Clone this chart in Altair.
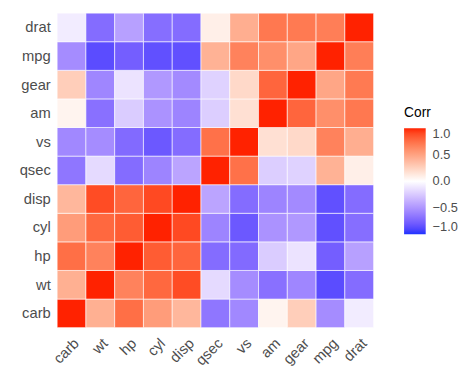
import altair as alt
import pandas as pd

variables = ["carb", "wt", "hp", "cyl", "disp", "qsec", "vs", "am", "gear", "mpg", "drat"]

carb = [1.00, 0.43, 0.75, 0.53, 0.39, -0.66, -0.57, 0.06, 0.27, -0.55, -0.09]
wt = [0.43, 1.00, 0.66, 0.78, 0.89, -0.17, -0.55, -0.69, -0.58, -0.87, -0.71]
hp = [0.75, 0.66, 1.00, 0.83, 0.79, -0.71, -0.72, -0.24, -0.13, -0.78, -0.45]
cyl = [0.53, 0.78, 0.83, 1.00, 0.90, -0.59, -0.81, -0.52, -0.49, -0.85, -0.70]
disp = [0.39, 0.89, 0.79, 0.90, 1.00, -0.43, -0.71, -0.59, -0.56, -0.85, -0.71]
qsec = [-0.66, -0.17, -0.71, -0.59, -0.43, 1.00, 0.74, -0.23, -0.21, 0.42, 0.09]
vs = [-0.57, -0.55, -0.72, -0.81, -0.71, 0.74, 1.00, 0.17, 0.21, 0.66, 0.44]
am = [0.06, -0.69, -0.24, -0.52, -0.59, -0.23, 0.17, 1.00, 0.79, 0.60, 0.71]
gear = [0.27, -0.58, -0.13, -0.49, -0.56, -0.21, 0.21, 0.79, 1.00, 0.48, 0.70]
mpg = [-0.55, -0.87, -0.78, -0.85, -0.85, 0.42, 0.66, 0.60, 0.48, 1.00, 0.68]
drat = [-0.09, -0.71, -0.45, -0.70, -0.71, 0.09, 0.44, 0.71, 0.70, 0.68, 1.00]

rows = {"carb": carb, "wt": wt, "hp": hp, "cyl": cyl, "disp": disp, "qsec": qsec,
        "vs": vs, "am": am, "gear": gear, "mpg": mpg, "drat": drat}

records = []
for yv in variables:
    for xv, val in zip(variables, rows[yv]):
        records.append({"Var1": xv, "Var2": yv, "Corr": val})
df = pd.DataFrame(records)

FONT = "Liberation Sans"

chart = alt.Chart(df).mark_rect(stroke="white", strokeWidth=0.6).encode(
    x=alt.X("Var1:N", sort=variables, title=None,
            axis=alt.Axis(labelAngle=-45, labelAlign="right", labelBaseline="top",
                          labelFontSize=15, labelColor="#4D4D4D", labelFont=FONT,
                          ticks=False, domain=False, labelPadding=8)),
    y=alt.Y("Var2:N", sort=list(reversed(variables)), title=None,
            axis=alt.Axis(labelFontSize=15, labelColor="#4D4D4D", labelFont=FONT,
                          ticks=False, domain=False, labelPadding=7)),
    color=alt.Color("Corr:Q",
                    scale=alt.Scale(domain=[-1, 0, 1], range=["#1E32FF", "white", "#FF2200"],
                                    interpolate="lab"),
                    legend=alt.Legend(title="Corr", orient="none", legendX=353, legendY=95,
                                      gradientLength=108, gradientThickness=22,
                                      values=[-1, -0.5, 0, 0.5, 1], format=".1f",
                                      labelFontSize=13, labelColor="#4D4D4D", labelFont=FONT,
                                      titleFontSize=14, titleFont=FONT, titleFontWeight="normal",
                                      titleColor="black", titlePadding=8, labelOffset=7,
                                      gradientStrokeWidth=0)),
).properties(
    width=322, height=320,
    autosize=alt.AutoSizeParams(type="none"),
    padding={"left": 50, "top": 2, "right": 94, "bottom": 48},
).configure_view(stroke=None).configure_axis(grid=False)

chart.save("out.html", embed_options={"renderer": "svg", "actions": False})
